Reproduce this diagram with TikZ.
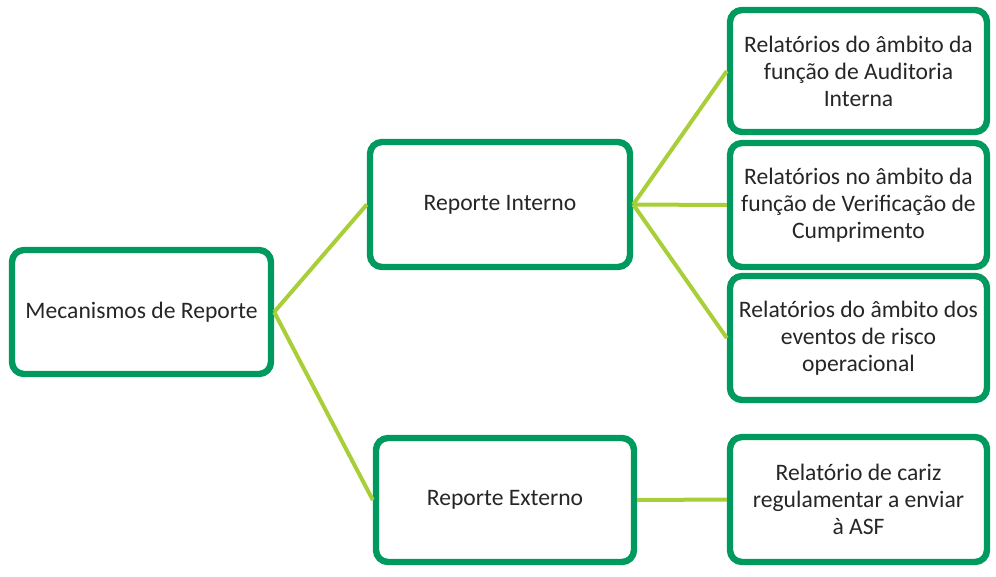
\documentclass[tikz,border=0pt]{standalone}
\usepackage{fontspec}
\setmainfont{Carlito}
\definecolor{boxgreen}{HTML}{009A5E}
\definecolor{linegreen}{HTML}{A8CF38}
\definecolor{txt}{HTML}{262626}
\begin{document}
\begin{tikzpicture}[x=0.75pt,y=-0.75pt,
  box/.style={draw=boxgreen,line width=4.8pt,rounded corners=9pt,fill=white,
    align=center,text=txt,font=\fontsize{17.7}{20.2}\selectfont,inner sep=2pt},
  conn/.style={draw=linegreen,line width=3pt}]
\useasboundingbox (0,0) rectangle (996,576);
\node[box,minimum width=194.25pt,minimum height=93pt] (m) at (141.5,312) {Mecanismos de Reporte};
\node[box,minimum width=195pt,minimum height=93.75pt] (ri) at (500,204.5) {Reporte Interno};
\node[box,minimum width=193.5pt,minimum height=93pt] (re) at (505,500) {Reporte Externo};
\node[box,minimum width=192.75pt,minimum height=91.5pt] (r1) at (858.5,71) {Relatórios do âmbito da\\função de Auditoria\\Interna};
\node[box,minimum width=192.75pt,minimum height=93pt] (r2) at (858.5,205) {Relatórios no âmbito da\\função de Verificação de\\Cumprimento};
\node[box,minimum width=192.75pt,minimum height=93pt] (r3) at (858.5,338) {Relatórios do âmbito dos\\eventos de risco\\operacional};
\node[box,minimum width=192.75pt,minimum height=93.75pt] (r4) at (858.5,499.5) {Relatório de cariz\\regulamentar a enviar\\à ASF};
\draw[conn] (m.east) -- (ri.west);
\draw[conn] (m.east) -- (re.west);
\draw[conn] (ri.east) -- (r1.west);
\draw[conn] (ri.east) -- (r2.west);
\draw[conn] (ri.east) -- (r3.west);
\draw[conn] (re.east) -- (r4.west);
\end{tikzpicture}
\end{document}
